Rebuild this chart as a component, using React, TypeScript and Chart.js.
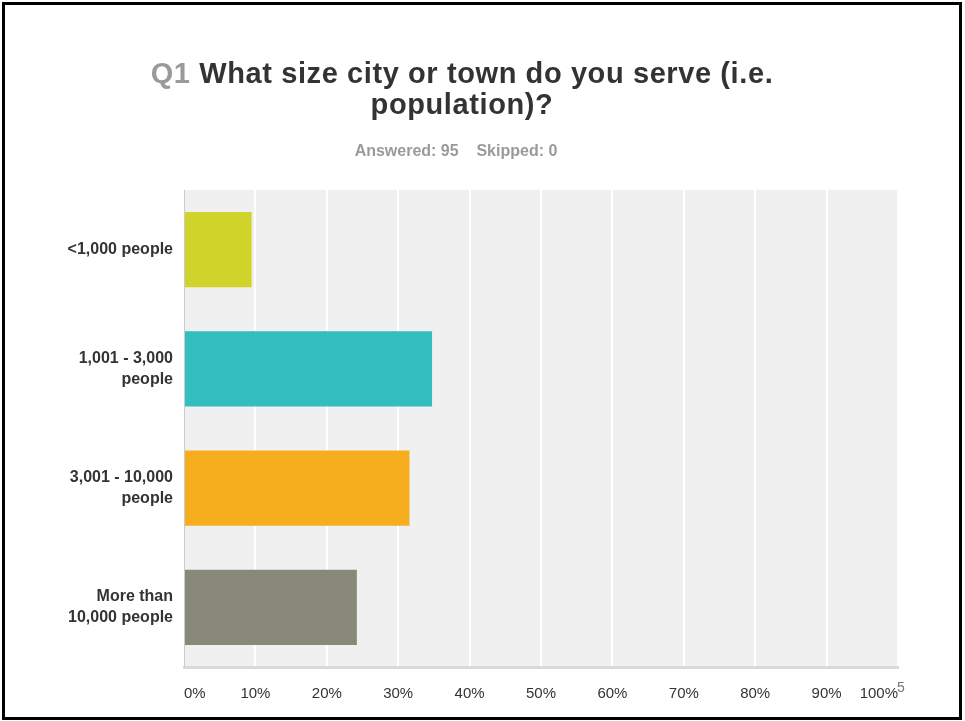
import React, { useEffect, useRef } from "react";
import { Chart, registerables } from "chart.js";

Chart.register(...registerables);

const categories: (string | string[])[] = [
  "<1,000 people",
  ["1,001 - 3,000", "people"],
  ["3,001 - 10,000", "people"],
  ["More than", "10,000 people"],
];
const percentValues = [9.47, 34.74, 31.58, 24.21];
const barColors = ["#cfd32a", "#33bdbe", "#f6ae1f", "#898979"];
const xTickLabels = ["0%", "10%", "20%", "30%", "40%", "50%", "60%", "70%", "80%", "90%", "100%"];

const plotBg = {
  id: "plotBg",
  beforeDraw(chart: any) {
    const { ctx, chartArea } = chart;
    if (!chartArea) return;
    ctx.save();
    ctx.fillStyle = "#f0f0f0";
    ctx.fillRect(chartArea.left, chartArea.top, chartArea.right - chartArea.left, chartArea.bottom - chartArea.top);
    ctx.restore();
  },
};

export default function App() {
  const ref = useRef<HTMLCanvasElement | null>(null);
  useEffect(() => {
    document.body.style.margin = "0";
    const canvas = ref.current;
    if (!canvas) return;
    const chart = new Chart(canvas, {
      type: "bar",
      data: {
        labels: categories as any,
        datasets: [
          {
            data: percentValues,
            backgroundColor: barColors,
            barPercentage: 0.63,
            categoryPercentage: 1,
          },
        ],
      },
      options: {
        indexAxis: "y",
        animation: false,
        responsive: false,
        maintainAspectRatio: false,
        layout: { padding: { top: 190, left: 0, right: 67, bottom: 0 } },
        plugins: {
          legend: { display: false },
          tooltip: { enabled: false },
          title: { display: false },
        },
        scales: {
          x: {
            min: 0,
            max: 100,
            afterFit(scale: any) {
              scale.height = 54;
            },
            ticks: {
              stepSize: 10,
              align: "inner",
              padding: 18,
              color: "#333333",
              font: { family: "Liberation Sans, Arial, sans-serif", size: 15 },
              callback: (_v: any, i: number) => xTickLabels[i],
            },
            grid: {
              drawTicks: false,
              lineWidth: 2,
              color: (c: any) => (c.index === 0 ? "rgba(0,0,0,0)" : "#ffffff"),
            },
            border: { display: true, color: "#dadada", width: 3 },
          },
          y: {
            afterFit(scale: any) {
              scale.width = 184;
            },
            ticks: {
              padding: 11,
              color: "#333333",
              font: { family: "Liberation Sans, Arial, sans-serif", size: 16, weight: "bold", lineHeight: 1.3 },
            },
            grid: { display: false, drawTicks: false },
            border: { display: true, color: "#cccccc", width: 1 },
          },
        },
      },
      plugins: [plotBg],
    });
    return () => chart.destroy();
  }, []);

  return (
    <div style={{ position: "relative", width: 965, height: 721, background: "#fff", fontFamily: "Liberation Sans, Arial, sans-serif", overflow: "hidden" }}>
      <canvas ref={ref} width={965} height={721} style={{ position: "absolute", left: 0, top: 0, width: 965, height: 721 }} />
      <div
        style={{
          position: "absolute",
          left: 2,
          top: 2,
          width: 960,
          height: 718,
          border: "3px solid #000",
          boxSizing: "border-box",
          pointerEvents: "none",
        }}
      />
      <div
        style={{
          position: "absolute",
          left: 62,
          width: 800,
          top: 58,
          textAlign: "center",
          fontSize: 29,
          lineHeight: "31px",
          fontWeight: "bold",
          color: "#333333",
          letterSpacing: "0.6px",
        }}
      >
        <span style={{ color: "#9a9a9a" }}>Q1</span> What size city or town do you serve (i.e.
        <br />
        population)?
      </div>
      <div
        style={{
          position: "absolute",
          left: 100,
          width: 712,
          top: 142,
          textAlign: "center",
          fontSize: 16,
          fontWeight: "bold",
          color: "#9a9a9a",
          whiteSpace: "pre",
        }}
      >
        {"Answered: 95    Skipped: 0"}
      </div>
      <div style={{ position: "absolute", left: 897, top: 679, fontSize: 14, color: "#777777" }}>5</div>
    </div>
  );
}
